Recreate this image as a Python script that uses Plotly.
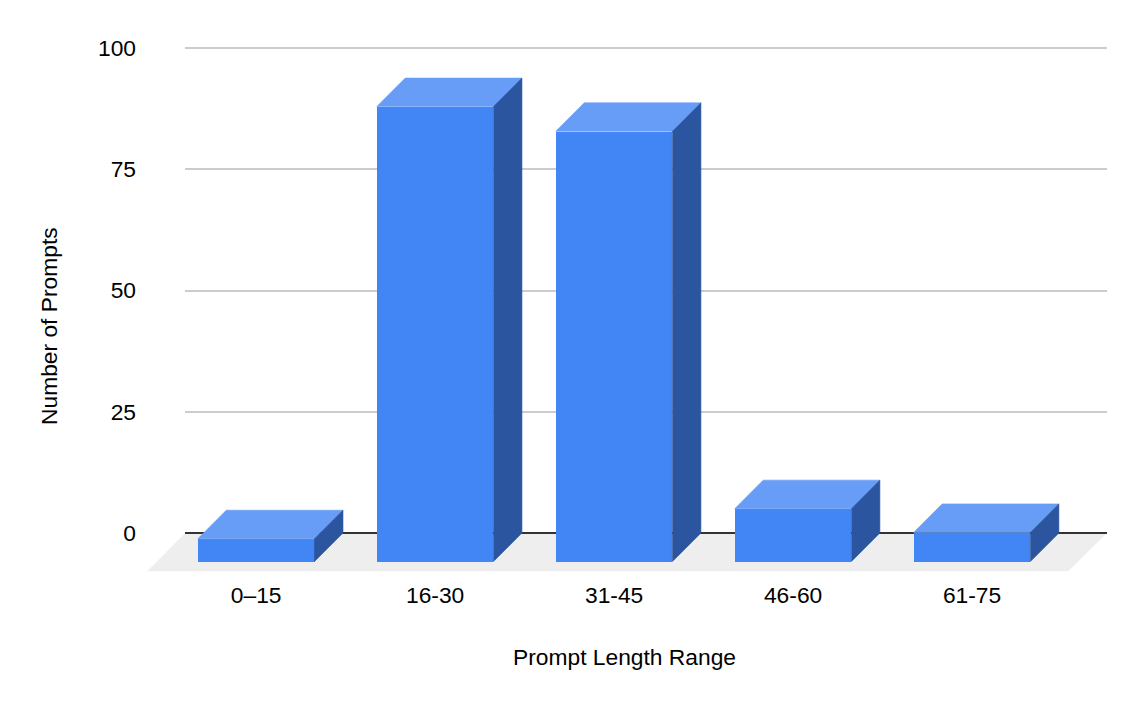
import plotly.graph_objects as go

categories = ['0–15', '16-30', '31-45', '46-60', '61-75']
prompts = [4.7, 93.8, 88.7, 10.9, 6.0]
y_ticks = [0, 25, 50, 75, 100]

# Colours of the three bar faces
front_color = '#4285f4'
top_color = '#679df6'
side_color = '#2b569f'

# Fake 3D look, in axis units
bar_width = 0.652
depth_x = 0.159
depth_y = 5.88
floor_drop = 7.94

wall_left, wall_right = -0.397, 4.754
floor_left, floor_right = -0.61, 4.536
y_range = [-floor_drop, 100.5]
positions = list(range(len(categories)))

fig_w, fig_h = 1134, 698  # the page body adds 8px around the figure


def px_x(px):
    return (px - 8) / fig_w


def px_y(px):
    return 1 - (px - 8) / fig_h


font = dict(family='Liberation Sans, Arial, sans-serif', size=22.8, color='#000000')

fig = go.Figure()

# Floor under the bars, bottom subplot
fig.add_trace(go.Scatter(
    x=[wall_left, wall_right, floor_right, floor_left, wall_left],
    y=[0, 0, -floor_drop, -floor_drop, 0],
    xaxis='x', yaxis='y',
    mode='none', fill='toself', fillcolor='#eeeeee',
    hoverinfo='skip', showlegend=False
))

# Empty trace so the grid subplot gets drawn between floor and bars
fig.add_trace(go.Scatter(x=[], y=[], xaxis='x2', yaxis='y2', showlegend=False))

# Front faces
fig.add_trace(go.Bar(
    x=positions,
    y=prompts,
    base=-depth_y,
    width=bar_width,
    xaxis='x3', yaxis='y3',
    marker=dict(color=front_color, line=dict(width=0)),
    showlegend=False
))

# Top and side faces follow each value
# thin outlines close the hairline seams against the front face
for pos, val in zip(positions, prompts):
    left = pos - bar_width / 2
    right = pos + bar_width / 2
    fig.add_trace(go.Scatter(
        x=[left, right, right + depth_x, left + depth_x, left],
        y=[val - depth_y, val - depth_y, val, val, val - depth_y],
        xaxis='x3', yaxis='y3',
        mode='lines', line=dict(color=top_color, width=0.6),
        fill='toself', fillcolor=top_color,
        hoverinfo='skip', showlegend=False
    ))
    fig.add_trace(go.Scatter(
        x=[right, right + depth_x, right + depth_x, right, right],
        y=[-depth_y, 0, val, val - depth_y, -depth_y],
        xaxis='x3', yaxis='y3',
        mode='lines', line=dict(color=side_color, width=0.6),
        fill='toself', fillcolor=side_color,
        hoverinfo='skip', showlegend=False
    ))

y_domain = [px_y(571.5), px_y(45.6)]
wide_domain = [px_x(147), px_x(1107)]

fig.update_layout(
    width=fig_w,
    height=fig_h,
    margin=dict(l=0, r=0, t=0, b=0, autoexpand=False),
    paper_bgcolor='white',
    plot_bgcolor='rgba(0,0,0,0)',
    font=font,
    bargap=0,
    # floor axes
    xaxis=dict(domain=wide_domain, range=[floor_left, wall_right], anchor='y', visible=False),
    yaxis=dict(domain=y_domain, range=y_range, anchor='x', visible=False),
    # grid axes: span only the back wall
    xaxis2=dict(
        domain=[px_x(185), px_x(1107)],
        range=[wall_left, wall_right],
        visible=False,
        anchor='y2',
    ),
    yaxis2=dict(
        domain=y_domain,
        range=y_range,
        anchor='x2',
        tickmode='array',
        tickvals=y_ticks,
        ticklen=0,
        ticklabelstandoff=48,
        showgrid=True,
        gridcolor='#cccccc',
        gridwidth=2,
        zeroline=True,
        zerolinecolor='#333333',
        zerolinewidth=2,
    ),
    # bar axes: wide enough for the floor's front edge
    xaxis3=dict(
        domain=wide_domain,
        range=[floor_left, wall_right],
        anchor='y3',
        tickmode='array',
        tickvals=positions,
        ticktext=categories,
        ticklen=0,
        ticklabelstandoff=8,
        showgrid=False,
        zeroline=False,
        showline=False,
    ),
    yaxis3=dict(domain=y_domain, range=y_range, anchor='x3', visible=False),
    annotations=[
        dict(text='Prompt Length Range', xref='paper', yref='paper',
             x=px_x(624), y=px_y(657),
             xanchor='center', yanchor='middle', showarrow=False),
        dict(text='Number of Prompts', xref='paper', yref='paper',
             x=px_x(49), y=px_y(326), textangle=-90,
             xanchor='center', yanchor='middle', showarrow=False),
    ],
)

fig.write_html('out.html')
